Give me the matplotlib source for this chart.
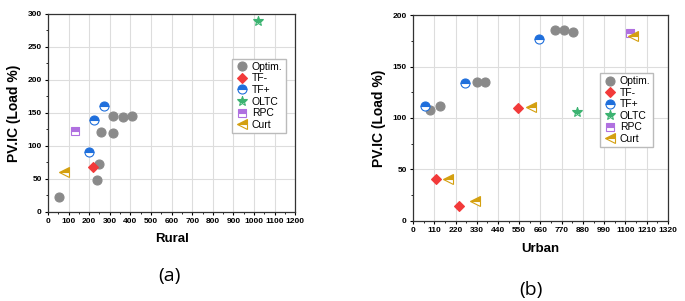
import matplotlib.pyplot as plt
from matplotlib.ticker import MultipleLocator

# Rural case (a)
rural_optim_x = [54, 239, 247, 256, 317, 317, 362, 406]
rural_optim_y = [22, 48, 72, 121, 146, 120, 143, 145]
rural_tfm_x = [221]
rural_tfm_y = [68]
rural_tfp_x = [198, 224, 273]
rural_tfp_y = [91, 139, 161]
rural_oltc_x = [1018]
rural_oltc_y = [289]
rural_rpc_x = [130]
rural_rpc_y = [123]
rural_curt_x = [76]
rural_curt_y = [61]

# Urban case (b)
urban_optim_x = [86, 138, 330, 372, 737, 783, 826]
urban_optim_y = [108, 112, 135, 135, 185, 185, 183.5]
urban_tfm_x = [120, 236, 546]
urban_tfm_y = [40.5, 14.6, 110]
urban_tfp_x = [64, 267, 654]
urban_tfp_y = [112, 134, 176.5]
urban_oltc_x = [847]
urban_oltc_y = [106]
urban_rpc_x = [1126]
urban_rpc_y = [183]
urban_curt_x = [182, 320, 610, 1138]
urban_curt_y = [41, 19, 110.5, 180]

labels = ["Optim.", "TF-", "TF+", "OLTC", "RPC", "Curt"]

# marker, colour, fill style for each series
styles = [
    dict(marker='o', color='#8a8a8a', fillstyle='full', ms=6.5),
    dict(marker='D', color='#f23a3a', fillstyle='full', ms=5.5),
    dict(marker='o', color='#1f6fdc', fillstyle='top', ms=6.5),
    dict(marker='*', color='#3cb371', fillstyle='top', ms=7.5),
    dict(marker='s', color='#b070e0', fillstyle='top', ms=6),
    dict(marker='<', color='#d4a010', fillstyle='top', ms=6.5),
]

plt.rcParams['font.family'] = ['Liberation Sans', 'DejaVu Sans']

fig = plt.figure(figsize=(6.85, 3.01), dpi=100)
ax1 = fig.add_axes([0.070, 0.296, 0.361, 0.658])
ax2 = fig.add_axes([0.603, 0.266, 0.372, 0.684])


def draw(ax, series, xmax, xstep, ymax, ystep, xlabel, leg_anchor):
    for (xs, ys), lab, st in zip(series, labels, styles):
        ax.plot(xs, ys, linestyle='none', marker=st['marker'], markersize=st['ms'],
                color=st['color'], markerfacecolor=st['color'],
                markerfacecoloralt='white', markeredgecolor=st['color'],
                markeredgewidth=0.8, fillstyle=st['fillstyle'], label=lab)
    ax.set_xlim(0, xmax)
    ax.set_ylim(0, ymax)
    ax.xaxis.set_major_locator(MultipleLocator(xstep))
    ax.xaxis.set_minor_locator(MultipleLocator(xstep / 2))
    ax.yaxis.set_major_locator(MultipleLocator(ystep))
    ax.yaxis.set_minor_locator(MultipleLocator(ystep / 2))
    ax.grid(True, which='major', color='#dddddd', linewidth=0.8)
    ax.set_axisbelow(True)
    ax.tick_params(which='major', direction='out', length=2.5, width=0.8, labelsize=6, pad=2)
    ax.tick_params(which='minor', direction='out', length=1.5, width=0.6)
    for lab in ax.get_xticklabels() + ax.get_yticklabels():
        lab.set_fontweight('bold')
    for sp in ax.spines.values():
        sp.set_linewidth(0.9)
        sp.set_color('#333333')
    ax.set_xlabel(xlabel, fontsize=9.5, fontweight='bold', labelpad=6)
    ax.set_ylabel("PV.IC (Load %)", fontsize=10, fontweight='bold', labelpad=5)
    ax.legend(loc='upper left', bbox_to_anchor=leg_anchor, fontsize=7.5,
              frameon=True, fancybox=False, edgecolor='#bbbbbb', framealpha=1,
              labelspacing=0.15, handletextpad=0.3, borderpad=0.3,
              handlelength=1.3, borderaxespad=0)


draw(ax1, [(rural_optim_x, rural_optim_y), (rural_tfm_x, rural_tfm_y),
           (rural_tfp_x, rural_tfp_y), (rural_oltc_x, rural_oltc_y),
           (rural_rpc_x, rural_rpc_y), (rural_curt_x, rural_curt_y)],
     1200, 100, 300, 50, "Rural", (0.745, 0.773))

draw(ax2, [(urban_optim_x, urban_optim_y), (urban_tfm_x, urban_tfm_y),
           (urban_tfp_x, urban_tfp_y), (urban_oltc_x, urban_oltc_y),
           (urban_rpc_x, urban_rpc_y), (urban_curt_x, urban_curt_y)],
     1320, 110, 200, 50, "Urban", (0.733, 0.718))

fig.text(0.248, 0.083, "(a)", fontsize=14, ha='center', va='center', family=['Open Sans'])
fig.text(0.775, 0.037, "(b)", fontsize=14, ha='center', va='center', family=['Open Sans'])

fig.savefig("out.png", dpi=100)
